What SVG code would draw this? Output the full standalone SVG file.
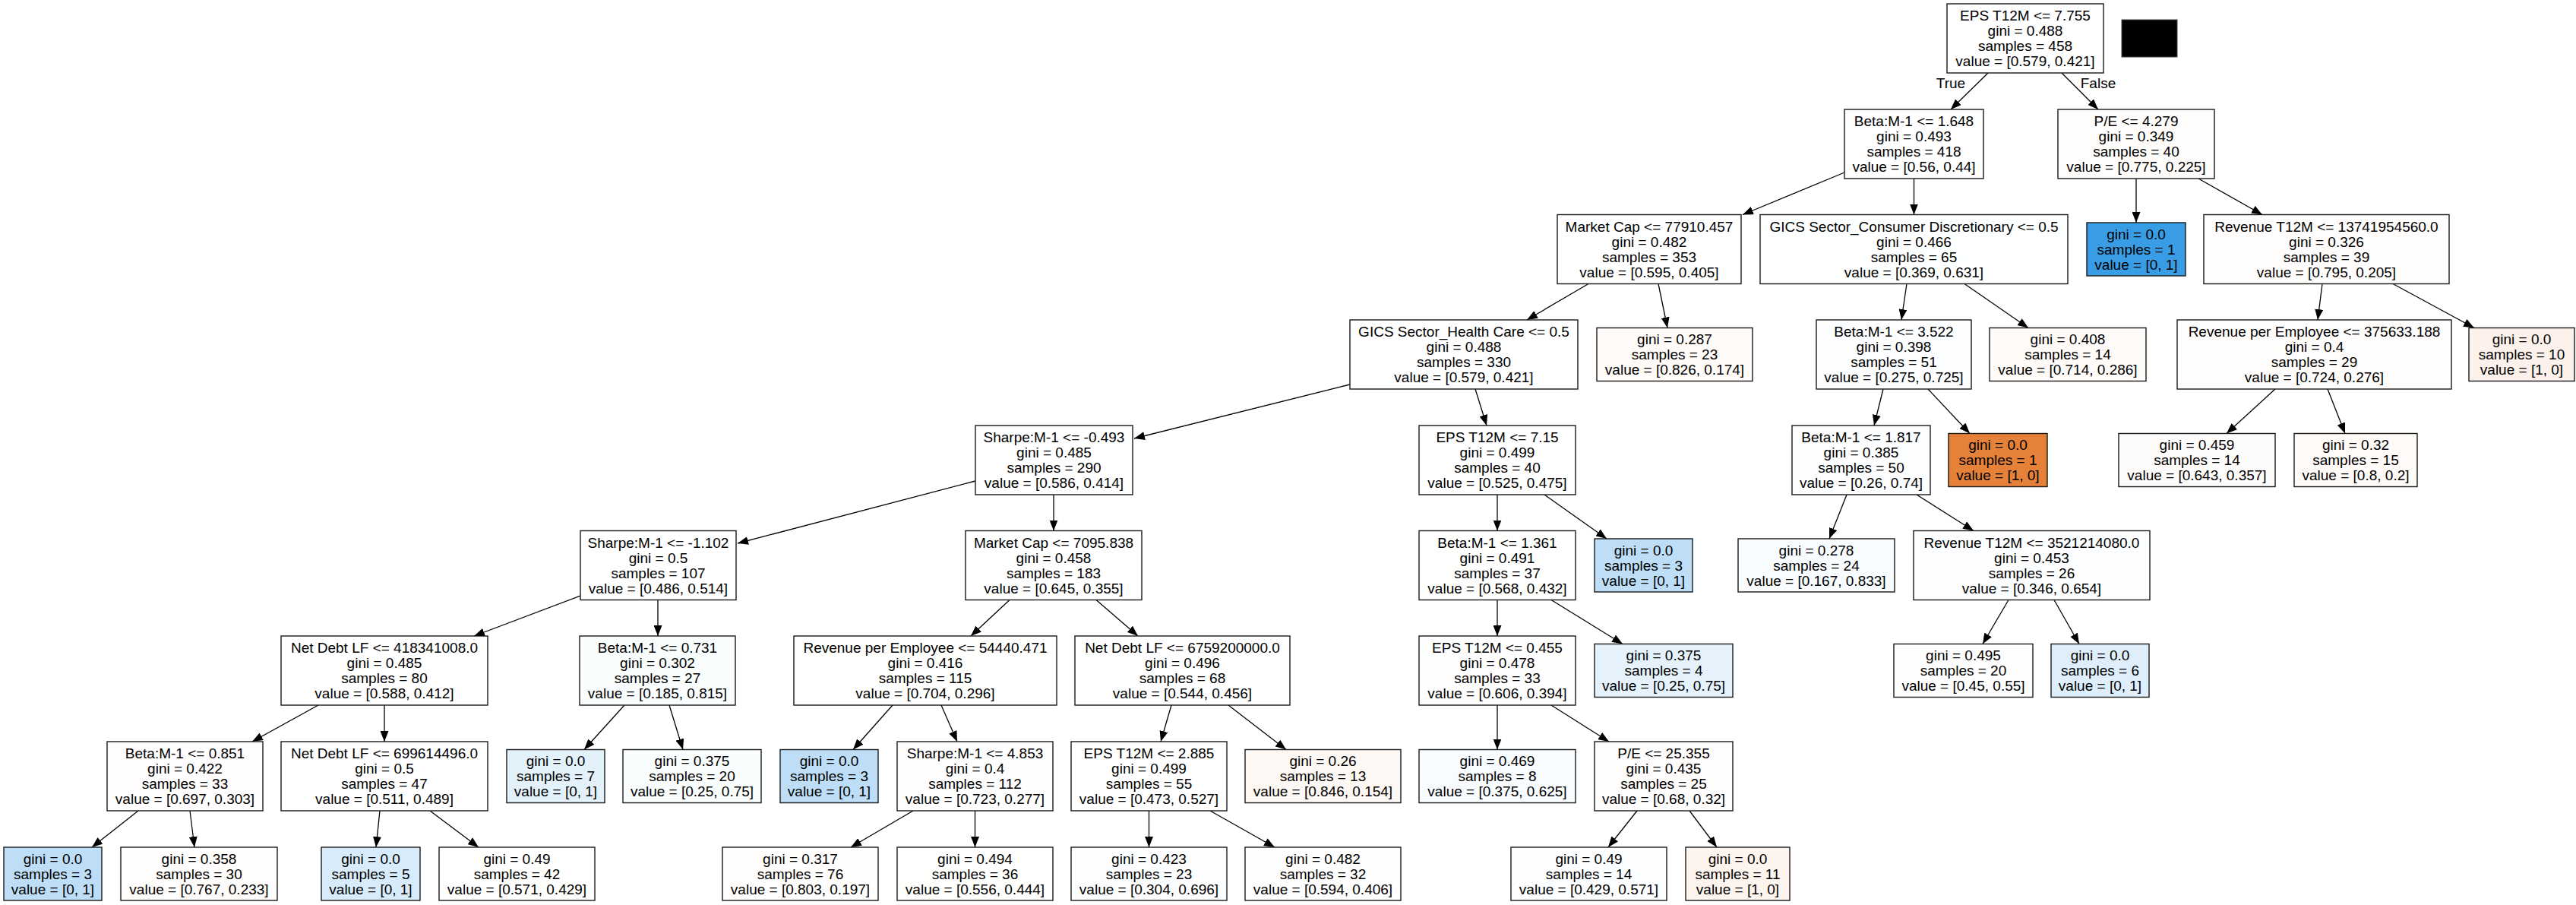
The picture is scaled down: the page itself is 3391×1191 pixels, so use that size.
<svg xmlns="http://www.w3.org/2000/svg" width="3391" height="1191" viewBox="0 0 3391 1191">
<defs>
<marker id="arr" viewBox="0 0 14 11" markerWidth="14" markerHeight="11" refX="14" refY="5.5" orient="auto" markerUnits="userSpaceOnUse"><path d="M0,0 L14,5.5 L0,11 z" fill="#000"/></marker>
</defs>
<style>
.n rect{stroke:#1a1a1a;stroke-width:1.4}
text{font-family:"Liberation Sans",Arial,Helvetica,sans-serif;font-size:19px;fill:#000;text-anchor:middle}
.e line{stroke:#000;stroke-width:1.3;marker-end:url(#arr)}
</style>
<rect width="3391" height="1191" fill="#fff"/>
<g id="connectors" class="e">
<line x1="2617" y1="96" x2="2568" y2="144"/>
<line x1="2714" y1="96" x2="2762" y2="144"/>
<line x1="2428" y1="227" x2="2294" y2="282.5"/>
<line x1="2519.5" y1="235" x2="2519.5" y2="282.5"/>
<line x1="2812" y1="235" x2="2812" y2="293"/>
<line x1="2894" y1="235" x2="2978" y2="282.5"/>
<line x1="2091" y1="373.5" x2="2010" y2="421"/>
<line x1="2183" y1="373.5" x2="2195" y2="431.5"/>
<line x1="2510" y1="373.5" x2="2503" y2="421"/>
<line x1="2586" y1="373.5" x2="2670" y2="431.5"/>
<line x1="3057" y1="373.5" x2="3051" y2="421"/>
<line x1="3150" y1="373.5" x2="3257" y2="431.5"/>
<line x1="1777" y1="506" x2="1493" y2="577"/>
<line x1="1942" y1="512" x2="1957" y2="560"/>
<line x1="2479" y1="512" x2="2467" y2="560"/>
<line x1="2538" y1="512" x2="2593" y2="570.5"/>
<line x1="2995" y1="512" x2="2931" y2="570.5"/>
<line x1="3064" y1="512" x2="3087" y2="570.5"/>
<line x1="1284" y1="633" x2="971" y2="715"/>
<line x1="1387" y1="651" x2="1387" y2="698.5"/>
<line x1="1971" y1="651" x2="1971" y2="698.5"/>
<line x1="2033" y1="651" x2="2115" y2="709"/>
<line x1="2431" y1="651" x2="2408" y2="709"/>
<line x1="2523" y1="651" x2="2598" y2="698.5"/>
<line x1="764" y1="784" x2="624" y2="837"/>
<line x1="866" y1="789.5" x2="866" y2="837"/>
<line x1="1329" y1="789.5" x2="1278" y2="837"/>
<line x1="1443" y1="789.5" x2="1498" y2="837"/>
<line x1="1971" y1="789.5" x2="1971" y2="837"/>
<line x1="2042" y1="789.5" x2="2136" y2="847.5"/>
<line x1="2644" y1="789.5" x2="2610" y2="847.5"/>
<line x1="2704" y1="789.5" x2="2737" y2="847.5"/>
<line x1="419" y1="928" x2="332" y2="976"/>
<line x1="506" y1="928" x2="506" y2="976"/>
<line x1="822" y1="928" x2="769" y2="986.5"/>
<line x1="881" y1="928" x2="899" y2="986.5"/>
<line x1="1175" y1="928" x2="1123" y2="986.5"/>
<line x1="1239" y1="928" x2="1260" y2="976"/>
<line x1="1542" y1="928" x2="1528" y2="976"/>
<line x1="1617" y1="928" x2="1693" y2="986.5"/>
<line x1="1971" y1="928" x2="1971" y2="986.5"/>
<line x1="2042" y1="928" x2="2118" y2="976"/>
<line x1="182" y1="1067" x2="121" y2="1115"/>
<line x1="250" y1="1067" x2="256" y2="1115"/>
<line x1="500" y1="1067" x2="495" y2="1115"/>
<line x1="566" y1="1067" x2="630" y2="1115"/>
<line x1="1202" y1="1067" x2="1120" y2="1115"/>
<line x1="1283.5" y1="1067" x2="1283.5" y2="1115"/>
<line x1="1512.5" y1="1067" x2="1512.5" y2="1115"/>
<line x1="1593" y1="1067" x2="1678" y2="1115"/>
<line x1="2155" y1="1067" x2="2117" y2="1115"/>
<line x1="2224" y1="1067" x2="2260" y2="1115"/>
</g>
<g id="edge-labels">
<text x="2568" y="116">True</text>
<text x="2762" y="116">False</text>
</g>
<rect id="legend-box" x="2793" y="26" width="73" height="49" fill="#000" stroke="#444" stroke-width="1"/>

<g id="n0" class="n"><rect x="2563" y="5" width="206" height="91" fill="#ffffff"/><text x="2666" y="27">EPS T12M &lt;= 7.755</text><text x="2666" y="47">gini = 0.488</text><text x="2666" y="67">samples = 458</text><text x="2666" y="87">value = [0.579, 0.421]</text></g>

<g id="n1" class="n"><rect x="2428" y="144" width="183" height="91" fill="#ffffff"/><text x="2519.5" y="166">Beta:M-1 &lt;= 1.648</text><text x="2519.5" y="186">gini = 0.493</text><text x="2519.5" y="206">samples = 418</text><text x="2519.5" y="226">value = [0.56, 0.44]</text></g>
<g id="n2" class="n"><rect x="2709" y="144" width="206" height="91" fill="#fffdfc"/><text x="2812" y="166">P/E &lt;= 4.279</text><text x="2812" y="186">gini = 0.349</text><text x="2812" y="206">samples = 40</text><text x="2812" y="226">value = [0.775, 0.225]</text></g>

<g id="n3" class="n"><rect x="2050" y="282.5" width="242" height="91" fill="#ffffff"/><text x="2171" y="304.5">Market Cap &lt;= 77910.457</text><text x="2171" y="324.5">gini = 0.482</text><text x="2171" y="344.5">samples = 353</text><text x="2171" y="364.5">value = [0.595, 0.405]</text></g>
<g id="n4" class="n"><rect x="2317" y="282.5" width="405" height="91" fill="#feffff"/><text x="2519.5" y="304.5">GICS Sector_Consumer Discretionary &lt;= 0.5</text><text x="2519.5" y="324.5">gini = 0.466</text><text x="2519.5" y="344.5">samples = 65</text><text x="2519.5" y="364.5">value = [0.369, 0.631]</text></g>
<g id="n5" class="n"><rect x="2747" y="293" width="130" height="70" fill="#399de5"/><text x="2812" y="314.5">gini = 0.0</text><text x="2812" y="334.5">samples = 1</text><text x="2812" y="354.5">value = [0, 1]</text></g>
<g id="n6" class="n"><rect x="2901" y="282.5" width="323" height="91" fill="#fffdfc"/><text x="3062.5" y="304.5">Revenue T12M &lt;= 13741954560.0</text><text x="3062.5" y="324.5">gini = 0.326</text><text x="3062.5" y="344.5">samples = 39</text><text x="3062.5" y="364.5">value = [0.795, 0.205]</text></g>

<g id="n7" class="n"><rect x="1777" y="421" width="300" height="91" fill="#ffffff"/><text x="1927" y="443">GICS Sector_Health Care &lt;= 0.5</text><text x="1927" y="463">gini = 0.488</text><text x="1927" y="483">samples = 330</text><text x="1927" y="503">value = [0.579, 0.421]</text></g>
<g id="n8" class="n"><rect x="2102" y="431.5" width="205" height="70" fill="#fefbf9"/><text x="2204.5" y="453">gini = 0.287</text><text x="2204.5" y="473">samples = 23</text><text x="2204.5" y="493">value = [0.826, 0.174]</text></g>
<g id="n9" class="n"><rect x="2391" y="421" width="204" height="91" fill="#fdfeff"/><text x="2493" y="443">Beta:M-1 &lt;= 3.522</text><text x="2493" y="463">gini = 0.398</text><text x="2493" y="483">samples = 51</text><text x="2493" y="503">value = [0.275, 0.725]</text></g>
<g id="n10" class="n"><rect x="2619" y="431.5" width="206" height="70" fill="#fefbf9"/><text x="2722" y="453">gini = 0.408</text><text x="2722" y="473">samples = 14</text><text x="2722" y="493">value = [0.714, 0.286]</text></g>
<g id="n11" class="n"><rect x="2866" y="421" width="361" height="91" fill="#fffdfc"/><text x="3046.5" y="443">Revenue per Employee &lt;= 375633.188</text><text x="3046.5" y="463">gini = 0.4</text><text x="3046.5" y="483">samples = 29</text><text x="3046.5" y="503">value = [0.724, 0.276]</text></g>
<g id="n12" class="n"><rect x="3250" y="431.5" width="139" height="70" fill="#fcf2eb"/><text x="3319.5" y="453">gini = 0.0</text><text x="3319.5" y="473">samples = 10</text><text x="3319.5" y="493">value = [1, 0]</text></g>

<g id="n13" class="n"><rect x="1284" y="560" width="207" height="91" fill="#ffffff"/><text x="1387.5" y="582">Sharpe:M-1 &lt;= -0.493</text><text x="1387.5" y="602">gini = 0.485</text><text x="1387.5" y="622">samples = 290</text><text x="1387.5" y="642">value = [0.586, 0.414]</text></g>
<g id="n14" class="n"><rect x="1868" y="560" width="206" height="91" fill="#ffffff"/><text x="1971" y="582">EPS T12M &lt;= 7.15</text><text x="1971" y="602">gini = 0.499</text><text x="1971" y="622">samples = 40</text><text x="1971" y="642">value = [0.525, 0.475]</text></g>
<g id="n15" class="n"><rect x="2359" y="560" width="182" height="91" fill="#fdfeff"/><text x="2450" y="582">Beta:M-1 &lt;= 1.817</text><text x="2450" y="602">gini = 0.385</text><text x="2450" y="622">samples = 50</text><text x="2450" y="642">value = [0.26, 0.74]</text></g>
<g id="n16" class="n"><rect x="2565" y="570.5" width="130" height="70" fill="#e58139"/><text x="2630" y="592">gini = 0.0</text><text x="2630" y="612">samples = 1</text><text x="2630" y="632">value = [1, 0]</text></g>
<g id="n17" class="n"><rect x="2789" y="570.5" width="206" height="70" fill="#fefcfb"/><text x="2892" y="592">gini = 0.459</text><text x="2892" y="612">samples = 14</text><text x="2892" y="632">value = [0.643, 0.357]</text></g>
<g id="n18" class="n"><rect x="3020" y="570.5" width="162" height="70" fill="#fefaf7"/><text x="3101" y="592">gini = 0.32</text><text x="3101" y="612">samples = 15</text><text x="3101" y="632">value = [0.8, 0.2]</text></g>

<g id="n19" class="n"><rect x="764" y="698.5" width="205" height="91" fill="#ffffff"/><text x="866.5" y="720.5">Sharpe:M-1 &lt;= -1.102</text><text x="866.5" y="740.5">gini = 0.5</text><text x="866.5" y="760.5">samples = 107</text><text x="866.5" y="780.5">value = [0.486, 0.514]</text></g>
<g id="n20" class="n"><rect x="1271" y="698.5" width="232" height="91" fill="#ffffff"/><text x="1387" y="720.5">Market Cap &lt;= 7095.838</text><text x="1387" y="740.5">gini = 0.458</text><text x="1387" y="760.5">samples = 183</text><text x="1387" y="780.5">value = [0.645, 0.355]</text></g>
<g id="n21" class="n"><rect x="1868" y="698.5" width="206" height="91" fill="#fffffe"/><text x="1971" y="720.5">Beta:M-1 &lt;= 1.361</text><text x="1971" y="740.5">gini = 0.491</text><text x="1971" y="760.5">samples = 37</text><text x="1971" y="780.5">value = [0.568, 0.432]</text></g>
<g id="n22" class="n"><rect x="2099" y="709" width="129" height="70" fill="#bddef6"/><text x="2163.5" y="730.5">gini = 0.0</text><text x="2163.5" y="750.5">samples = 3</text><text x="2163.5" y="770.5">value = [0, 1]</text></g>
<g id="n23" class="n"><rect x="2288" y="709" width="206" height="70" fill="#f9fcfe"/><text x="2391" y="730.5">gini = 0.278</text><text x="2391" y="750.5">samples = 24</text><text x="2391" y="770.5">value = [0.167, 0.833]</text></g>
<g id="n24" class="n"><rect x="2519" y="698.5" width="311" height="91" fill="#fdfeff"/><text x="2674.5" y="720.5">Revenue T12M &lt;= 3521214080.0</text><text x="2674.5" y="740.5">gini = 0.453</text><text x="2674.5" y="760.5">samples = 26</text><text x="2674.5" y="780.5">value = [0.346, 0.654]</text></g>

<g id="n25" class="n"><rect x="370" y="837" width="272" height="91" fill="#ffffff"/><text x="506" y="859">Net Debt LF &lt;= 418341008.0</text><text x="506" y="879">gini = 0.485</text><text x="506" y="899">samples = 80</text><text x="506" y="919">value = [0.588, 0.412]</text></g>
<g id="n26" class="n"><rect x="763" y="837" width="205" height="91" fill="#fafdfe"/><text x="865.5" y="859">Beta:M-1 &lt;= 0.731</text><text x="865.5" y="879">gini = 0.302</text><text x="865.5" y="899">samples = 27</text><text x="865.5" y="919">value = [0.185, 0.815]</text></g>
<g id="n27" class="n"><rect x="1045" y="837" width="346" height="91" fill="#fffffe"/><text x="1218" y="859">Revenue per Employee &lt;= 54440.471</text><text x="1218" y="879">gini = 0.416</text><text x="1218" y="899">samples = 115</text><text x="1218" y="919">value = [0.704, 0.296]</text></g>
<g id="n28" class="n"><rect x="1415" y="837" width="283" height="91" fill="#ffffff"/><text x="1556.5" y="859">Net Debt LF &lt;= 6759200000.0</text><text x="1556.5" y="879">gini = 0.496</text><text x="1556.5" y="899">samples = 68</text><text x="1556.5" y="919">value = [0.544, 0.456]</text></g>
<g id="n29" class="n"><rect x="1868" y="837" width="206" height="91" fill="#fffefe"/><text x="1971" y="859">EPS T12M &lt;= 0.455</text><text x="1971" y="879">gini = 0.478</text><text x="1971" y="899">samples = 33</text><text x="1971" y="919">value = [0.606, 0.394]</text></g>
<g id="n30" class="n"><rect x="2099" y="847.5" width="182" height="70" fill="#e5f2fc"/><text x="2190" y="869">gini = 0.375</text><text x="2190" y="889">samples = 4</text><text x="2190" y="909">value = [0.25, 0.75]</text></g>
<g id="n31" class="n"><rect x="2493" y="847.5" width="183" height="70" fill="#fefeff"/><text x="2584.5" y="869">gini = 0.495</text><text x="2584.5" y="889">samples = 20</text><text x="2584.5" y="909">value = [0.45, 0.55]</text></g>
<g id="n32" class="n"><rect x="2700" y="847.5" width="129" height="70" fill="#deeffb"/><text x="2764.5" y="869">gini = 0.0</text><text x="2764.5" y="889">samples = 6</text><text x="2764.5" y="909">value = [0, 1]</text></g>

<g id="n33" class="n"><rect x="141" y="976" width="205" height="91" fill="#fffdfd"/><text x="243.5" y="998">Beta:M-1 &lt;= 0.851</text><text x="243.5" y="1018">gini = 0.422</text><text x="243.5" y="1038">samples = 33</text><text x="243.5" y="1058">value = [0.697, 0.303]</text></g>
<g id="n34" class="n"><rect x="370" y="976" width="272" height="91" fill="#ffffff"/><text x="506" y="998">Net Debt LF &lt;= 699614496.0</text><text x="506" y="1018">gini = 0.5</text><text x="506" y="1038">samples = 47</text><text x="506" y="1058">value = [0.511, 0.489]</text></g>
<g id="n35" class="n"><rect x="667" y="986.5" width="129" height="70" fill="#e3f1fb"/><text x="731.5" y="1008">gini = 0.0</text><text x="731.5" y="1028">samples = 7</text><text x="731.5" y="1048">value = [0, 1]</text></g>
<g id="n36" class="n"><rect x="820" y="986.5" width="182" height="70" fill="#fafdfe"/><text x="911" y="1008">gini = 0.375</text><text x="911" y="1028">samples = 20</text><text x="911" y="1048">value = [0.25, 0.75]</text></g>
<g id="n37" class="n"><rect x="1027" y="986.5" width="129" height="70" fill="#bddef6"/><text x="1091.5" y="1008">gini = 0.0</text><text x="1091.5" y="1028">samples = 3</text><text x="1091.5" y="1048">value = [0, 1]</text></g>
<g id="n38" class="n"><rect x="1181" y="976" width="205" height="91" fill="#fffefe"/><text x="1283.5" y="998">Sharpe:M-1 &lt;= 4.853</text><text x="1283.5" y="1018">gini = 0.4</text><text x="1283.5" y="1038">samples = 112</text><text x="1283.5" y="1058">value = [0.723, 0.277]</text></g>
<g id="n39" class="n"><rect x="1410" y="976" width="205" height="91" fill="#ffffff"/><text x="1512.5" y="998">EPS T12M &lt;= 2.885</text><text x="1512.5" y="1018">gini = 0.499</text><text x="1512.5" y="1038">samples = 55</text><text x="1512.5" y="1058">value = [0.473, 0.527]</text></g>
<g id="n40" class="n"><rect x="1639" y="986.5" width="205" height="70" fill="#fef8f4"/><text x="1741.5" y="1008">gini = 0.26</text><text x="1741.5" y="1028">samples = 13</text><text x="1741.5" y="1048">value = [0.846, 0.154]</text></g>
<g id="n41" class="n"><rect x="1868" y="986.5" width="206" height="70" fill="#f9fcfe"/><text x="1971" y="1008">gini = 0.469</text><text x="1971" y="1028">samples = 8</text><text x="1971" y="1048">value = [0.375, 0.625]</text></g>
<g id="n42" class="n"><rect x="2099" y="976" width="182" height="91" fill="#fffdfc"/><text x="2190" y="998">P/E &lt;= 25.355</text><text x="2190" y="1018">gini = 0.435</text><text x="2190" y="1038">samples = 25</text><text x="2190" y="1058">value = [0.68, 0.32]</text></g>

<g id="n43" class="n"><rect x="5" y="1115" width="129" height="70" fill="#bddef6"/><text x="69.5" y="1136.5">gini = 0.0</text><text x="69.5" y="1156.5">samples = 3</text><text x="69.5" y="1176.5">value = [0, 1]</text></g>
<g id="n44" class="n"><rect x="159" y="1115" width="206" height="70" fill="#fffdfb"/><text x="262" y="1136.5">gini = 0.358</text><text x="262" y="1156.5">samples = 30</text><text x="262" y="1176.5">value = [0.767, 0.233]</text></g>
<g id="n45" class="n"><rect x="423" y="1115" width="130" height="70" fill="#d7ebfa"/><text x="488" y="1136.5">gini = 0.0</text><text x="488" y="1156.5">samples = 5</text><text x="488" y="1176.5">value = [0, 1]</text></g>
<g id="n46" class="n"><rect x="578" y="1115" width="205" height="70" fill="#fffffe"/><text x="680.5" y="1136.5">gini = 0.49</text><text x="680.5" y="1156.5">samples = 42</text><text x="680.5" y="1176.5">value = [0.571, 0.429]</text></g>
<g id="n47" class="n"><rect x="951" y="1115" width="205" height="70" fill="#fffefd"/><text x="1053.5" y="1136.5">gini = 0.317</text><text x="1053.5" y="1156.5">samples = 76</text><text x="1053.5" y="1176.5">value = [0.803, 0.197]</text></g>
<g id="n48" class="n"><rect x="1181" y="1115" width="205" height="70" fill="#fffffe"/><text x="1283.5" y="1136.5">gini = 0.494</text><text x="1283.5" y="1156.5">samples = 36</text><text x="1283.5" y="1176.5">value = [0.556, 0.444]</text></g>
<g id="n49" class="n"><rect x="1410" y="1115" width="205" height="70" fill="#fcfdff"/><text x="1512.5" y="1136.5">gini = 0.423</text><text x="1512.5" y="1156.5">samples = 23</text><text x="1512.5" y="1176.5">value = [0.304, 0.696]</text></g>
<g id="n50" class="n"><rect x="1639" y="1115" width="205" height="70" fill="#fffefe"/><text x="1741.5" y="1136.5">gini = 0.482</text><text x="1741.5" y="1156.5">samples = 32</text><text x="1741.5" y="1176.5">value = [0.594, 0.406]</text></g>
<g id="n51" class="n"><rect x="1989" y="1115" width="205" height="70" fill="#fdfeff"/><text x="2091.5" y="1136.5">gini = 0.49</text><text x="2091.5" y="1156.5">samples = 14</text><text x="2091.5" y="1176.5">value = [0.429, 0.571]</text></g>
<g id="n52" class="n"><rect x="2219" y="1115" width="137" height="70" fill="#fdf4ed"/><text x="2287.5" y="1136.5">gini = 0.0</text><text x="2287.5" y="1156.5">samples = 11</text><text x="2287.5" y="1176.5">value = [1, 0]</text></g>
</svg>
